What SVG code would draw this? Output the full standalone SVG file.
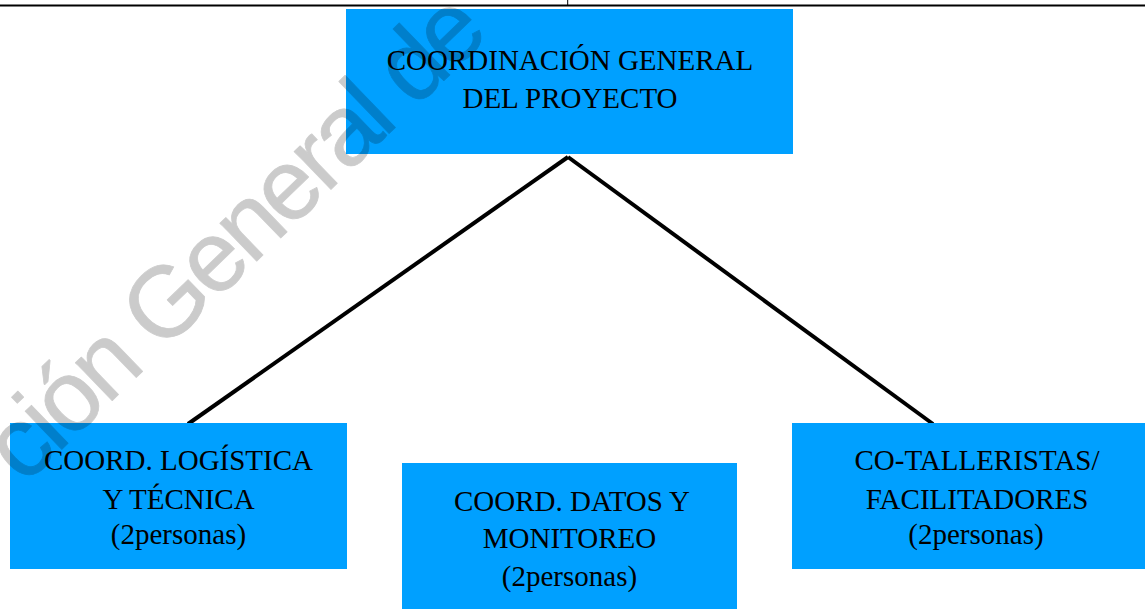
<svg xmlns="http://www.w3.org/2000/svg" width="1145" height="609" viewBox="0 0 1145 609">
<style>
.box{fill:#00A0FF}
.t{font-family:"Liberation Serif","Times New Roman",serif;font-size:29px;fill:#000;text-anchor:middle}
.wm{font-family:"Liberation Sans",Arial,sans-serif;font-size:100px;letter-spacing:-4px;fill:#000;stroke:#000;stroke-width:0.8;stroke-linejoin:round}
.conn{stroke:#000;stroke-width:4;fill:none}
</style>
<rect width="1145" height="609" fill="#fff"/>
<g id="header">
<line x1="0" y1="5.5" x2="1145" y2="5.5" stroke="#000" stroke-width="2"/>
<line x1="567.7" y1="0" x2="567.7" y2="5" stroke="#000" stroke-width="1"/>
</g>
<g id="connectors">
<line class="conn" x1="568" y1="157" x2="188" y2="424"/>
<line class="conn" x1="568" y1="157" x2="933" y2="424"/>
</g>
<g id="n-general">
<rect class="box" x="346" y="9" width="447" height="145"/>
<text class="t" x="570" y="70">COORDINACIÓN GENERAL</text>
<text class="t" x="570" y="108">DEL PROYECTO</text>
</g>
<g id="n-logistica">
<rect class="box" x="10" y="423" width="337" height="146"/>
<text class="t" x="178.5" y="470">COORD. LOGÍSTICA</text>
<text class="t" x="178.5" y="509">Y TÉCNICA</text>
<text class="t" x="178.5" y="544">(2personas)</text>
</g>
<g id="n-datos">
<rect class="box" x="402" y="463" width="335" height="146"/>
<text class="t" x="572" y="511">COORD. DATOS Y</text>
<text class="t" x="569.5" y="547.5">MONITOREO</text>
<text class="t" x="569.5" y="586">(2personas)</text>
</g>
<g id="n-talleristas">
<rect class="box" x="792" y="423" width="353" height="146"/>
<text class="t" x="977" y="470">CO-TALLERISTAS/</text>
<text class="t" x="977" y="509">FACILITADORES</text>
<text class="t" x="976" y="544">(2personas)</text>
</g>
<g id="watermark" opacity="0.2">
<text class="wm" transform="translate(24,486) rotate(-44)">ción General de</text>
</g>
</svg>
